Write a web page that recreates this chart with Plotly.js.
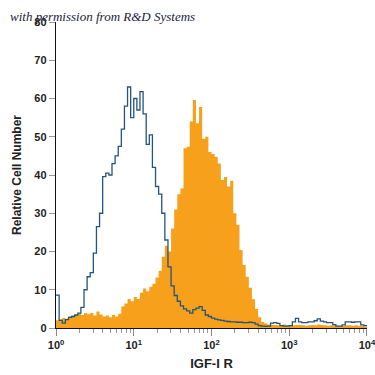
<!DOCTYPE html>
<html>
<head>
<meta charset="utf-8">
<script src="https://cdn.plot.ly/plotly-3.0.1.min.js"></script>
<style>html,body{margin:0;padding:0;background:#fff;}#chart{width:375px;height:375px;}</style>
</head>
<body>
<div id="chart"></div>
<script>
// channel left edges, in decades (log10 of fluorescence)
const channelExp = [0.00,0.04,0.08,0.12,0.16,0.20,0.24,0.28,0.32,0.36,0.40,0.44,0.48,0.52,0.56,0.60,0.64,0.68,0.72,0.76,
  0.80,0.84,0.88,0.92,0.96,1.00,1.04,1.08,1.12,1.16,1.20,1.24,1.28,1.32,1.36,1.40,1.44,1.48,1.52,1.56,
  1.60,1.64,1.68,1.72,1.76,1.80,1.84,1.88,1.92,1.96,2.00,2.04,2.08,2.12,2.16,2.20,2.24,2.28,2.32,2.36,
  2.40,2.44,2.48,2.52,2.56,2.60,2.64,2.68,2.72,2.76,2.80,2.84,2.88,2.92,2.96,3.00,3.04,3.08,3.12,3.16,
  3.20,3.24,3.28,3.32,3.36,3.40,3.44,3.48,3.52,3.56,3.60,3.64,3.68,3.72,3.76,3.80,3.84,3.88,3.92,3.96];
const lastEdgeExp = 4.00;

// IGF-I R stained cells (orange filled histogram)
const igf1r = [2.0,2.3,2.6,2.4,3.0,3.3,3.4,3.7,3.4,3.9,3.6,3.9,3.3,4.3,3.5,3.0,3.3,2.8,3.4,3.0,
  3.7,5.6,6.4,7.6,7.0,8.1,7.6,9.2,10.3,9.6,10.8,11.6,13.2,15.0,18.6,21.5,20.0,26.0,31.0,35.0,
  36.5,47.0,47.4,54.0,59.6,53.5,57.8,49.5,50.0,46.0,45.5,44.8,43.0,38.7,39.5,37.0,38.5,30.0,27.0,20.4,
  16.5,13.4,10.5,7.5,5.0,2.8,1.6,1.2,0.9,0.8,0.8,0.7,0.8,0.9,0.7,0.6,0.7,0.8,0.8,0.7,
  0.6,0.7,0.8,0.7,0.9,0.8,0.7,0.6,0.7,0.7,0.6,0.5,0.6,0.7,0.7,0.6,0.7,0.6,0.5,0.4];

// isotype control (blue open histogram)
const isotype = [8.6,2.0,1.3,2.2,2.8,3.0,3.4,3.9,5.4,10.0,13.4,14.5,19.6,26.5,30.0,39.6,40.5,40.0,43.0,45.0,
  47.5,52.0,58.0,63.0,55.0,60.0,57.0,61.8,56.0,48.0,50.5,42.0,37.0,35.0,30.0,23.0,16.0,11.0,8.5,7.0,
  5.8,5.0,4.5,3.9,4.8,5.2,5.6,4.6,3.4,3.0,2.6,2.3,2.1,2.0,1.8,1.7,1.6,1.6,1.5,1.5,
  1.4,1.4,1.5,1.4,1.0,0.6,0.5,0.4,0.5,1.3,1.4,1.2,0.6,0.5,0.5,0.6,1.6,2.5,1.6,1.4,
  1.4,1.6,1.6,1.9,2.4,1.8,1.6,1.4,1.4,0.9,0.5,0.5,0.8,1.6,1.6,1.5,1.6,1.6,0.8,0.6];

const xTickVals = [1, 10, 100, 1000, 10000];
const xTickText = ['10<sup>0</sup>','10<sup>1</sup>','10<sup>2</sup>','10<sup>3</sup>','10<sup>4</sup>'];
const yTickVals = [0,10,20,30,40,50,60,70,80];

const edges = channelExp.concat([lastEdgeExp]).map(e => Math.pow(10, e));
const withLast = arr => arr.concat([arr[arr.length - 1]]);

const minorVals = [];
for (let d = 0; d < 4; d++) for (let k = 2; k <= 9; k++) minorVals.push(k * Math.pow(10, d));

const FONT = '"Liberation Sans Narrow", "Liberation Sans", Arial, sans-serif';

const traces = [
  {
    x: edges, y: withLast(igf1r), type: 'scatter', mode: 'lines',
    line: {shape: 'hv', width: 0, color: '#F6A01C'},
    fill: 'tozeroy', fillcolor: '#F6A01C', hoverinfo: 'skip', showlegend: false
  },
  {
    x: edges, y: withLast(isotype), type: 'scatter', mode: 'lines',
    line: {shape: 'hv', width: 1.3, color: '#23557f'},
    hoverinfo: 'skip', showlegend: false
  }
];

const layout = {
  width: 375, height: 375,
  margin: {l: 56, r: 8, t: 22, b: 47, pad: 0},
  paper_bgcolor: '#fff', plot_bgcolor: '#fff',
  showlegend: false,
  title: {
    text: 'with permission from R&amp;D Systems',
    font: {family: '"Liberation Serif", "DejaVu Serif", serif', size: 13, style: 'italic', color: '#1c1c3a'},
    x: 10 / 375, xanchor: 'left', xref: 'container',
    y: 0.957, yanchor: 'middle', yref: 'container'
  },
  xaxis: {
    type: 'log', range: [-0.0004, 4.0004],
    showline: true, linecolor: '#111', linewidth: 1.2,
    showgrid: false, zeroline: false,
    tickmode: 'array', tickvals: xTickVals, ticktext: xTickText,
    ticklabeloverflow: 'allow',
    ticks: 'outside', ticklen: 7, tickwidth: 1, tickcolor: '#888',
    tickfont: {family: FONT, size: 11, color: '#222', weight: 'bold'},
    minor: {tickmode: 'array', tickvals: minorVals, ticks: 'outside', ticklen: 4, tickwidth: 1, tickcolor: '#999', showgrid: false},
    title: {text: 'IGF-I R', font: {family: FONT, size: 13, color: '#222', weight: 'bold'}, standoff: 8}
  },
  yaxis: {
    range: [0, 80],
    showline: true, linecolor: '#111', linewidth: 1.2,
    showgrid: false, zeroline: false,
    tickmode: 'array', tickvals: yTickVals,
    ticks: 'outside', ticklen: 6, tickwidth: 1, tickcolor: '#999',
    tickfont: {family: FONT, size: 11, color: '#222', weight: 'bold'},
    title: {text: 'Relative Cell Number', font: {family: FONT, size: 12, color: '#222', weight: 'bold'}, standoff: 10}
  }
};

Plotly.newPlot('chart', traces, layout, {staticPlot: true, displayModeBar: false});
</script>
</body>
</html>
